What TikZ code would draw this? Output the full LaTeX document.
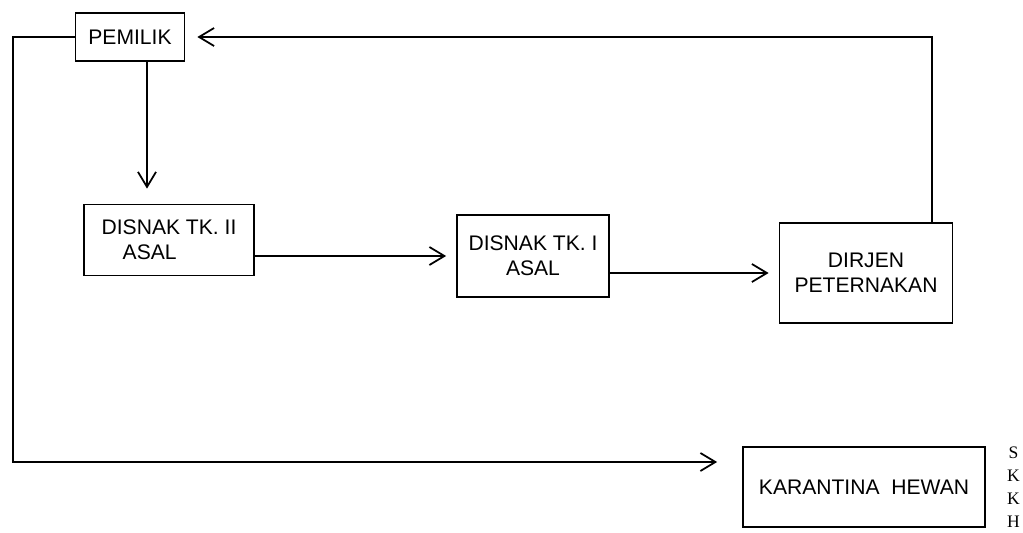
\documentclass[tikz,border=0pt]{standalone}
\usepackage{fontspec}
\setmainfont{Liberation Sans}
\newfontfamily\sidefont{Liberation Serif}
\usepackage{tikz}
\usetikzlibrary{arrows.meta, positioning}
\tikzset{
	flowbox/.style={draw, line width=1pt, align=center, inner sep=2pt,
			font=\fontsize{12}{14}\selectfont}
}
\tikzset{
	flowarrow/.style={line width=1pt, -{Straight Barb[length=3mm,width=3.6mm]}}
}
\tikzset{
	sidetext/.style={font=\sidefont\fontsize{10}{13}\selectfont, align=center, inner sep=0pt}
}

\begin{document}
\begin{tikzpicture}

			\useasboundingbox (0,0) rectangle (20.46,-10.64);

			\begin{scope}
				\node[flowbox, minimum width=2.18cm, minimum height=0.96cm] (pemilik) at (2.6,-0.74) {PEMILIK};
				\node[flowbox, minimum width=3.4cm, minimum height=1.42cm, align=left] (tk2) at (3.38,-4.8) {DISNAK TK.\ II\\\quad ASAL};
				\node[flowbox, minimum width=3.04cm, minimum height=1.64cm] (tk1) at (10.66,-5.12) {DISNAK TK.\ I\\ASAL};
				\node[flowbox, minimum width=3.46cm, minimum height=2.0cm] (dirjen) at (17.32,-5.46) {DIRJEN\\PETERNAKAN};
				\node[flowbox, minimum width=4.84cm, minimum height=1.6cm] (karantina) at (17.28,-9.74) {KARANTINA\ \ HEWAN};
				\node[sidetext, right=0.42cm of karantina] (skkh) {S\\K\\K\\H};
			\end{scope}

			\begin{scope}
				\coordinate (pdrop) at ([xshift=0.34cm]pemilik.south);
				\coordinate (dup) at ([xshift=1.32cm]dirjen.north);
				\coordinate (lowleft) at (0.26,-9.24);

				\draw[flowarrow, shorten >=0.3cm] (pdrop) -- (pdrop |- tk2.north);
				\draw[flowarrow, shorten >=0.2cm] (tk2.east |- tk1) -- (tk1.west);
				\draw[flowarrow, shorten >=0.2cm] (tk1.east |- dirjen) -- (dirjen.west);
				\draw[flowarrow, shorten >=0.24cm] (dup) |- (pemilik.east);
				\draw[flowarrow, shorten >=0.5cm] (pemilik.west) -| (lowleft) -- (lowleft -| karantina.west);
			\end{scope}

		\end{tikzpicture}
\end{document}
